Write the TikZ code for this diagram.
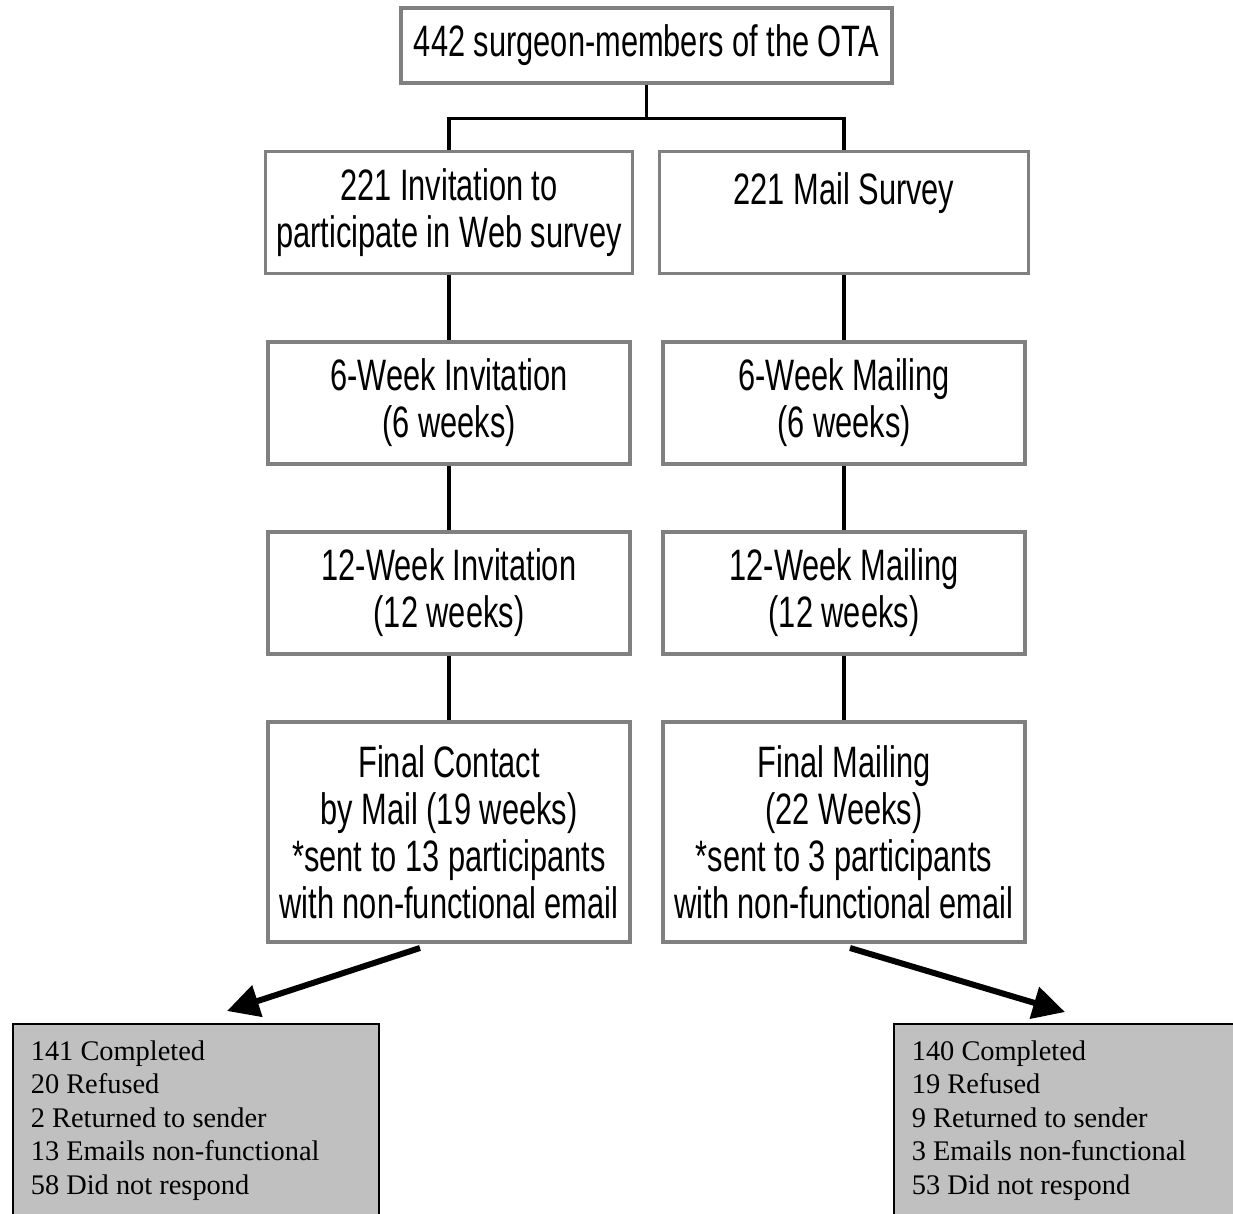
\documentclass[tikz,border=0pt]{standalone}
\usepackage{fontspec}
\usetikzlibrary{arrows.meta, positioning}
\newfontfamily\flowfont[FakeStretch=0.7]{Liberation Sans}
\newfontfamily\tallyfont{Liberation Serif}
\definecolor{boxgray}{RGB}{128,128,128}
\definecolor{tallygray}{RGB}{192,192,192}
\newcommand{\tallytext}[1]{\parbox[t][110pt][t]{165pt}{\raggedright #1}}

\begin{document}
\begin{tikzpicture}[x=0.5pt, y=-0.5pt,
            stage/.style={rectangle, draw=boxgray, line width=1.6pt, fill=white, minimum width=181pt, minimum height=61pt, inner sep=0pt, align=center, font=\flowfont\fontsize{22}{23.5}\selectfont},
            tally/.style={rectangle, draw=black, line width=0.8pt, fill=tallygray, anchor=north west, minimum width=183pt, inner xsep=7.5pt, inner ysep=8.5pt, font=\tallyfont\fontsize{14.2}{16.7}\selectfont},
            link/.style={line width=1.6pt},
            arrow/.style={-{Triangle[length=16pt, width=16pt]}, line width=3pt}
        ]

            \clip (0,0) rectangle (1233,1214);

            \node[stage, minimum width=245.5pt, minimum height=37.5pt] (ota) at (646.5,45.5) {442 surgeon-members of the OTA};

            \node[stage, minimum width=183.5pt] (web) at (449,212.5) {221 Invitation to\\participate in Web survey};
            \node[stage, minimum width=184.5pt] (mail) at (844,212.5) {221 Mail Survey\\\mbox{}};

            \node[stage] (web6) at (449,403) {6-Week Invitation\\(6 weeks)};
            \node[stage] (mail6) at (844,403) {6-Week Mailing\\(6 weeks)};

            \node[stage] (web12) at (449,593) {12-Week Invitation\\(12 weeks)};
            \node[stage] (mail12) at (844,593) {12-Week Mailing\\(12 weeks)};

            \node[stage, minimum height=110pt] (webfinal) at (449,832) {Final Contact\\by Mail (19 weeks)\\*sent to 13 participants\\with non-functional email};
            \node[stage, minimum height=110pt] (mailfinal) at (844,832) {Final Mailing\\(22 Weeks)\\*sent to 3 participants\\with non-functional email};

            \node[tally] (webtally) at (12,1023) {\tallytext{141 Completed\\20 Refused\\2 Returned to sender\\13 Emails non-functional\\58 Did not respond}};
            \node[tally] (mailtally) at (893,1023) {\tallytext{140 Completed\\19 Refused\\9 Returned to sender\\3 Emails non-functional\\53 Did not respond}};

            \coordinate (webtail) at (420,948);
            \coordinate (webtip) at (227,1011);
            \coordinate (mailtail) at (850,948);
            \coordinate (mailtip) at (1065,1012);

            \draw[link] (ota.south) -- ++(0,34) -| (web.north);
            \draw[link] (ota.south) -- ++(0,34) -| (mail.north);
            \draw[link] (web.south) -- (web6.north);
            \draw[link] (web6.south) -- (web12.north);
            \draw[link] (web12.south) -- (webfinal.north);
            \draw[link] (mail.south) -- (mail6.north);
            \draw[link] (mail6.south) -- (mail12.north);
            \draw[link] (mail12.south) -- (mailfinal.north);

            \draw[arrow] (webtail) -- (webtip);
            \draw[arrow] (mailtail) -- (mailtip);

        \end{tikzpicture}
\end{document}
